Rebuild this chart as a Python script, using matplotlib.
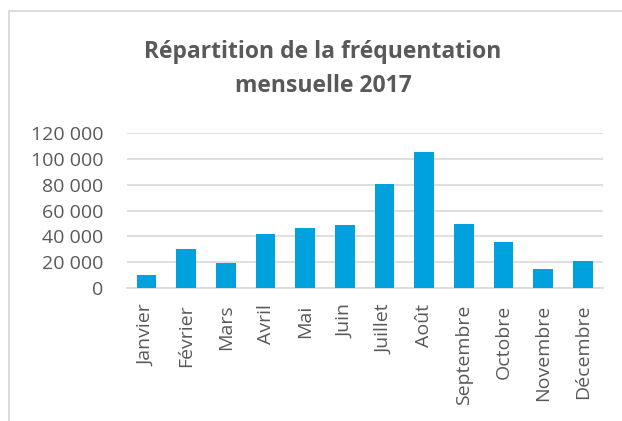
import numpy as np
import matplotlib
matplotlib.use("Agg")
import matplotlib.pyplot as plt
from matplotlib.ticker import FuncFormatter
from matplotlib.lines import Line2D

mois = ["Janvier", "Février", "Mars", "Avril", "Mai", "Juin", "Juillet",
        "Août", "Septembre", "Octobre", "Novembre", "Décembre"]
frequentation = [10000, 30300, 19800, 41900, 46500, 49100, 80200,
                 104900, 49400, 35700, 15200, 21100]
titre = ["Répartition de la fréquentation", "mensuelle 2017"]

plt.rcParams['font.family'] = ['Open Sans', 'DejaVu Sans']
gris = '#595959'

fig = plt.figure(figsize=(6.22, 4.21), dpi=100)
W, H = 622, 421
ax = fig.add_axes([126.7 / W, 1 - 288.3 / H, 476 / W, (288.3 - 132.7) / H])

x = np.arange(len(mois))
ax.bar(x, frequentation, width=0.49, color='#00A2DE', zorder=3)

ax.set_xlim(-0.5, 11.5)
ax.set_ylim(0, 120000)
ax.set_yticks(np.arange(0, 120001, 20000))
ax.yaxis.set_major_formatter(FuncFormatter(lambda v, p: f"{int(v):,}".replace(",", " ")))
ax.set_xticks(x)
ax.set_xticklabels(mois, rotation=90, va='top', ha='center')
ax.grid(axis='y', color='#d9d9d9', lw=1.2, zorder=0)
for s in ['top', 'right', 'left']:
    ax.spines[s].set_visible(False)
ax.spines['bottom'].set_color('#d9d9d9')
ax.spines['bottom'].set_linewidth(1.2)
ax.tick_params(axis='both', length=0, colors=gris, labelsize=14)
ax.tick_params(axis='y', pad=17)
ax.tick_params(axis='x', pad=11.5)

# titre sur deux lignes
fig.text(323 / W, 1 - 58 / H, titre[0], ha='center', va='baseline',
         fontsize=16.5, fontweight='bold', color=gris)
fig.text(323 / W, 1 - 92 / H, titre[1], ha='center', va='baseline',
         fontsize=16.5, fontweight='bold', color=gris)

# cadre du graphique
fig.add_artist(Line2D([8.5 / W, 8.5 / W, 1.0], [0.0, 1 - 10.5 / H, 1 - 10.5 / H],
                      transform=fig.transFigure, color='#d9d9d9', lw=1.3))

fig.savefig("out.png", dpi=100)
